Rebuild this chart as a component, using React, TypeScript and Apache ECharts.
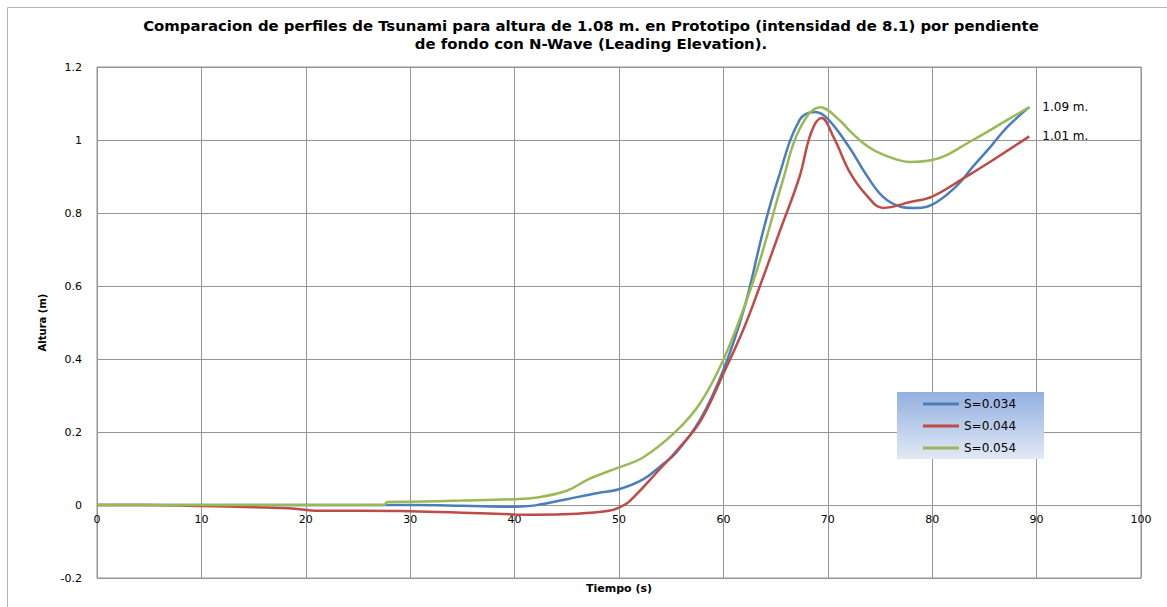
import React, { useEffect, useRef } from "react";
import * as echarts from "echarts";

// Time (s) and wave height (m) for each bottom slope
const tS034 = [0, 5, 10, 15, 20, 25, 27.5, 30, 35, 40, 42, 45, 48, 50, 52.3, 54, 55.5, 57.8, 60, 62, 63.8, 65.2, 67.3, 68.8, 70, 72.1, 73.7, 75.3, 76.9, 78.2, 80, 82.3, 83.9, 85.6, 87.2, 89.3];
const hS034 = [0, 0, 0, 0, 0, 0, 0, 0, -0.002, -0.005, -0.001, 0.016, 0.033, 0.043, 0.07, 0.107, 0.144, 0.235, 0.37, 0.54, 0.75, 0.89, 1.055, 1.077, 1.058, 0.978, 0.904, 0.844, 0.818, 0.814, 0.823, 0.873, 0.927, 0.982, 1.036, 1.09];

const tS044 = [0, 5, 10, 15, 19, 21, 25, 30, 35, 40, 42, 46, 49, 50, 51, 53.9, 55.5, 57.8, 60, 61.9, 63.5, 65.4, 67.3, 68.4, 69.4, 70.6, 72.1, 73.7, 75.3, 77.9, 80, 83, 85.6, 89.3];
const hS044 = [0, 0, -0.003, -0.006, -0.01, -0.016, -0.016, -0.017, -0.021, -0.026, -0.027, -0.024, -0.016, -0.007, 0.01, 0.098, 0.148, 0.23, 0.36, 0.48, 0.6, 0.75, 0.9, 1.02, 1.06, 1.005, 0.912, 0.849, 0.814, 0.83, 0.845, 0.895, 0.941, 1.01];

const tS054 = [0, 10, 20, 27.5, 27.8, 30, 35, 40, 42, 45, 47.1, 50, 52.3, 55.5, 57.8, 60, 61.9, 63.5, 65.7, 67.3, 69.3, 71.1, 72.1, 73.7, 75.3, 77.9, 80, 83.9, 87.2, 89.3];
const hS054 = [0, 0, 0, 0, 0.008, 0.009, 0.012, 0.016, 0.02, 0.039, 0.071, 0.103, 0.13, 0.203, 0.28, 0.398, 0.535, 0.67, 0.89, 1.03, 1.09, 1.055, 1.025, 0.985, 0.96, 0.94, 0.945, 1.0, 1.055, 1.09];

const seriesNames = ["S=0.034", "S=0.044", "S=0.054"];
const seriesColors = ["#4a7ebb", "#be4b48", "#98b954"];
// Series whose final height is written next to the curve end
const endLabelled = [false, true, true];

const titleText =
  "Comparacion de perfiles de Tsunami para altura de 1.08 m. en Prototipo (intensidad de 8.1) por pendiente\nde fondo con N-Wave (Leading Elevation).";

const FONT = "DejaVu Sans";

function pairs(t: number[], h: number[]) {
  return t.map((x, i) => [x, h[i]]);
}

export default function App() {
  const ref = useRef<HTMLDivElement>(null);

  useEffect(() => {
    if (!ref.current) return;
    const chart = echarts.init(ref.current, null, { renderer: "svg" });
    const data = [pairs(tS034, hS034), pairs(tS044, hS044), pairs(tS054, hS054)];

    chart.setOption({
      animation: false,
      backgroundColor: "#ffffff",
      textStyle: { fontFamily: FONT },
      title: {
        text: titleText,
        left: 586,
        textAlign: "center",
        top: 12,
        padding: 5,
        textStyle: {
          fontFamily: FONT,
          fontWeight: "bold",
          fontSize: 14.9,
          lineHeight: 18,
          color: "#000",
        },
      },
      graphic: [
        {
          type: "rect",
          z: -10,
          silent: true,
          shape: { x: 7.5, y: 7.5, width: 1200, height: 700 },
          style: { fill: "none", stroke: "#b4b4b4", lineWidth: 1 },
        },
        {
          type: "rect",
          z: 5,
          silent: true,
          shape: { x: 897, y: 392, width: 147, height: 67 },
          style: {
            fill: new echarts.graphic.LinearGradient(0, 0, 0, 1, [
              { offset: 0, color: "#93b0e0" },
              { offset: 1, color: "#e2e9f5" },
            ]),
          },
        },
      ],
      legend: {
        orient: "vertical",
        left: 923,
        top: 397,
        padding: 0,
        itemGap: 8,
        itemWidth: 36,
        itemHeight: 3,
        itemTextGap: 3,
        icon: "rect",
        z: 10,
        data: seriesNames,
        textStyle: { fontFamily: FONT, fontSize: 12, color: "#000", lineHeight: 14 },
      },
      grid: {
        left: 97,
        right: 26,
        top: 67,
        bottom: 29,
        outerBoundsMode: "none",
        containLabel: false,
        show: true,
        borderColor: "#959595",
        borderWidth: 1,
      },
      xAxis: {
        type: "value",
        min: 0,
        max: 100,
        interval: 10,
        position: "bottom",
        // time labels sit just under the zero-height line
        offset: -73,
        name: "Tiempo (s)",
        nameLocation: "middle",
        nameGap: 78,
        nameTextStyle: { fontFamily: FONT, fontWeight: "bold", fontSize: 11, color: "#000" },
        axisLine: { onZero: false, lineStyle: { color: "#959595", width: 1 } },
        axisTick: { show: false },
        axisLabel: { margin: 9, fontFamily: FONT, fontSize: 11, color: "#000" },
        splitLine: { show: true, lineStyle: { color: "#959595", width: 1 } },
      },
      yAxis: {
        type: "value",
        min: -0.2,
        max: 1.2,
        interval: 0.2,
        name: "Altura (m)",
        nameLocation: "middle",
        nameRotate: 90,
        nameGap: 50,
        nameTextStyle: { fontFamily: FONT, fontWeight: "bold", fontSize: 10, color: "#000" },
        axisLine: { show: true, lineStyle: { color: "#959595", width: 1 } },
        axisTick: { show: false },
        axisLabel: { margin: 15, fontFamily: FONT, fontSize: 11, color: "#000" },
        splitLine: { show: true, lineStyle: { color: "#959595", width: 1 } },
      },
      series: seriesNames.map((name, i) => ({
        name,
        type: "line",
        data: data[i],
        smooth: 0.4,
        showSymbol: false,
        symbol: "none",
        color: seriesColors[i],
        lineStyle: { color: seriesColors[i], width: 2.5 },
        z: 2 + i,
        endLabel: {
          show: endLabelled[i],
          distance: 13,
          fontFamily: FONT,
          fontSize: 12,
          color: "#000",
          formatter: (p: any) => `${Number(p.value[1]).toFixed(2)} m.`,
        },
      })),
    });

    return () => chart.dispose();
  }, []);

  return (
    <div
      ref={ref}
      style={{ position: "absolute", left: 0, top: 0, width: 1167, height: 607 }}
    />
  );
}
